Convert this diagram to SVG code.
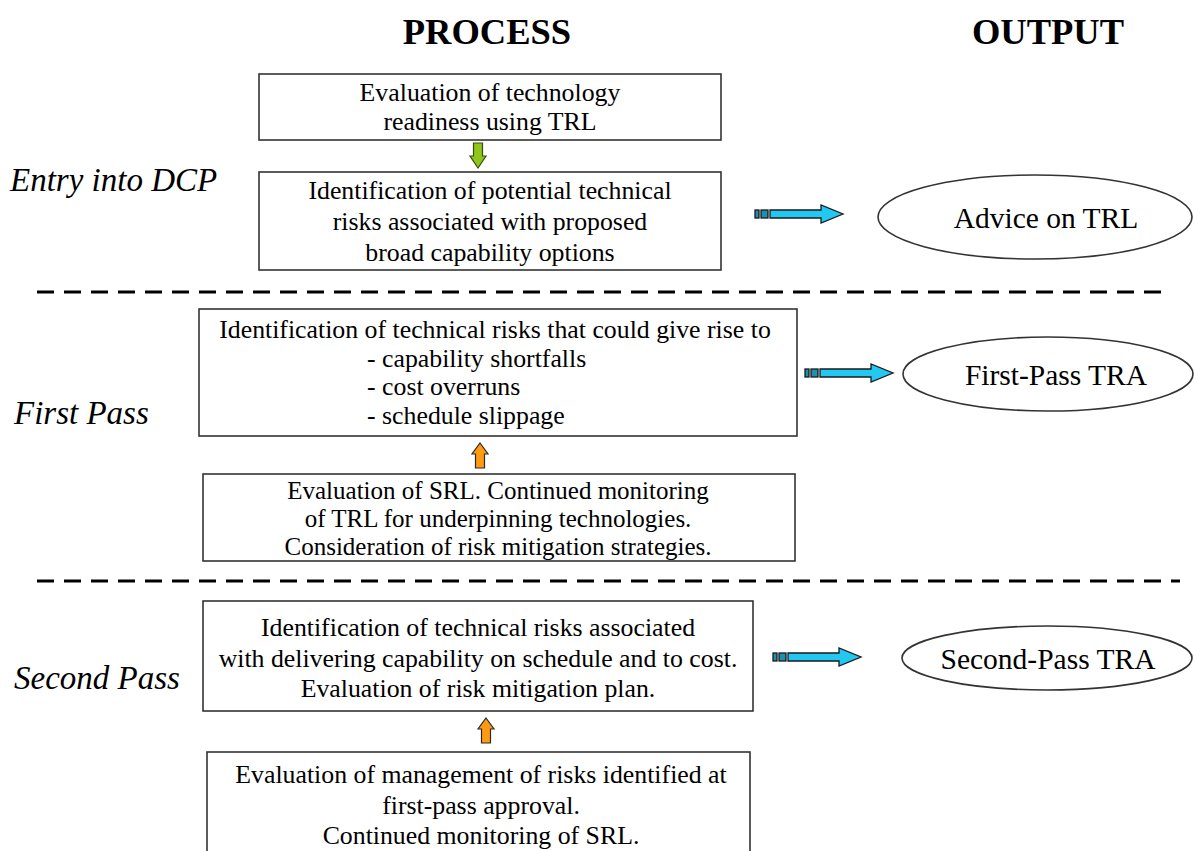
<svg xmlns="http://www.w3.org/2000/svg" width="1194" height="851" viewBox="0 0 1194 851">
  <style>
    .box { fill: #ffffff; stroke: #333333; stroke-width: 1.6; }
    .oval { fill: #ffffff; stroke: #333333; stroke-width: 1.6; }
    .txt { font-family: "Liberation Serif", "Times New Roman", serif; font-size: 25.8px; fill: #000000; }
    .tight { font-size: 25px; }
    .mid { text-anchor: middle; }
    .head { font-family: "Liberation Serif", "Times New Roman", serif; font-size: 36.5px; font-weight: bold; fill: #000000; text-anchor: middle; }
    .phase { font-family: "Liberation Serif", "Times New Roman", serif; font-size: 33px; font-style: italic; fill: #000000; }
    .out { font-family: "Liberation Serif", "Times New Roman", serif; font-size: 29.5px; fill: #000000; text-anchor: middle; }
    .sep { stroke: #000000; stroke-width: 3; stroke-dasharray: 17 10; fill: none; }
    .blue { fill: #22c8f2; stroke: #1a1a1a; stroke-width: 1.3; }
    .stripe { fill: #1d8fb0; stroke: #1a1a1a; stroke-width: 1.3; }
    .green { fill: #8fc61a; stroke: #3a4a10; stroke-width: 1.2; }
    .orange { fill: #ff9a12; stroke: #2a2a2a; stroke-width: 1.2; }
  </style>
  <defs>
    <!-- striped block arrow pointing right, origin at tail, centre line y=0 -->
    <g id="stripedArrow">
      <rect class="stripe" x="0" y="-4" width="4" height="8"/>
      <rect class="stripe" x="6" y="-4" width="7" height="8"/>
      <path class="blue" d="M15,-4 H66 V-9 L88,0 L66,9 V4 H15 Z"/>
    </g>
    <!-- block arrow pointing down, origin at top centre -->
    <path id="downArrow" d="M-4.5,0 H4.5 V13 H8 L0,25 L-8,13 H-4.5 Z"/>
    <!-- block arrow pointing up, origin at top (tip) centre -->
    <path id="upArrow" d="M0,0 L8,11 H4.5 V25 H-4.5 V11 H-8 Z"/>
  </defs>

  <!-- column headings -->
  <text class="head" x="487" y="44">PROCESS</text>
  <text class="head" x="1048" y="44">OUTPUT</text>

  <!-- phase labels -->
  <text class="phase" x="10" y="191">Entry into DCP</text>
  <text class="phase" x="14" y="424">First Pass</text>
  <text class="phase" x="14" y="689">Second Pass</text>

  <!-- phase separators -->
  <line class="sep" x1="37" y1="292" x2="1166" y2="292"/>
  <line class="sep" x1="37" y1="581" x2="1180" y2="581"/>

  <!-- Entry into DCP -->
  <g id="trl-evaluation">
    <rect class="box" x="259" y="74" width="462" height="66"/>
    <text class="txt mid" x="490" y="101">Evaluation of technology</text>
    <text class="txt mid" x="490" y="130">readiness using TRL</text>
  </g>
  <g id="potential-risks">
    <rect class="box" x="259" y="172" width="462" height="98"/>
    <text class="txt mid" x="490" y="199">Identification of potential technical</text>
    <text class="txt mid" x="490" y="230">risks associated with proposed</text>
    <text class="txt mid" x="490" y="261">broad capability options</text>
  </g>
  <g id="advice-trl">
    <ellipse class="oval" cx="1035" cy="217" rx="157" ry="42"/>
    <text class="out" x="1046" y="228">Advice on TRL</text>
  </g>

  <!-- First Pass -->
  <g id="first-pass-risks">
    <rect class="box" x="199" y="309" width="598" height="127"/>
    <text class="txt mid" x="495" y="338">Identification of technical risks that could give rise to</text>
    <text class="txt" x="367" y="367">- capability shortfalls</text>
    <text class="txt" x="367" y="395">- cost overruns</text>
    <text class="txt" x="367" y="424">- schedule slippage</text>
  </g>
  <g id="srl-evaluation">
    <rect class="box" x="203" y="474" width="592" height="87"/>
    <text class="txt tight mid" x="498" y="499">Evaluation of SRL. Continued monitoring</text>
    <text class="txt tight mid" x="498" y="527">of TRL for underpinning technologies.</text>
    <text class="txt tight mid" x="498" y="555">Consideration of risk mitigation strategies.</text>
  </g>
  <g id="first-pass-tra">
    <ellipse class="oval" cx="1048" cy="374" rx="145" ry="37"/>
    <text class="out" x="1056" y="385">First-Pass TRA</text>
  </g>

  <!-- Second Pass -->
  <g id="second-pass-risks">
    <rect class="box" x="203" y="601" width="550" height="110"/>
    <text class="txt mid" x="478" y="636">Identification of technical risks associated</text>
    <text class="txt mid" x="478" y="667">with delivering capability on schedule and to cost.</text>
    <text class="txt mid" x="478" y="697">Evaluation of risk mitigation plan.</text>
  </g>
  <g id="risk-management">
    <rect class="box" x="207" y="752" width="543" height="120"/>
    <text class="txt mid" x="481" y="783">Evaluation of management of risks identified at</text>
    <text class="txt mid" x="481" y="814">first-pass approval.</text>
    <text class="txt mid" x="481" y="844">Continued monitoring of SRL.</text>
  </g>
  <g id="second-pass-tra">
    <ellipse class="oval" cx="1047" cy="658" rx="145" ry="32"/>
    <text class="out" x="1048" y="669">Second-Pass TRA</text>
  </g>

  <!-- connectors -->
  <g id="connectors">
    <use href="#downArrow" class="green" x="478" y="143"/>
    <use href="#stripedArrow" x="755" y="214"/>
    <use href="#upArrow" class="orange" x="480" y="443"/>
    <use href="#stripedArrow" x="805" y="373"/>
    <use href="#upArrow" class="orange" x="486" y="718"/>
    <use href="#stripedArrow" x="773" y="657"/>
  </g>
</svg>
